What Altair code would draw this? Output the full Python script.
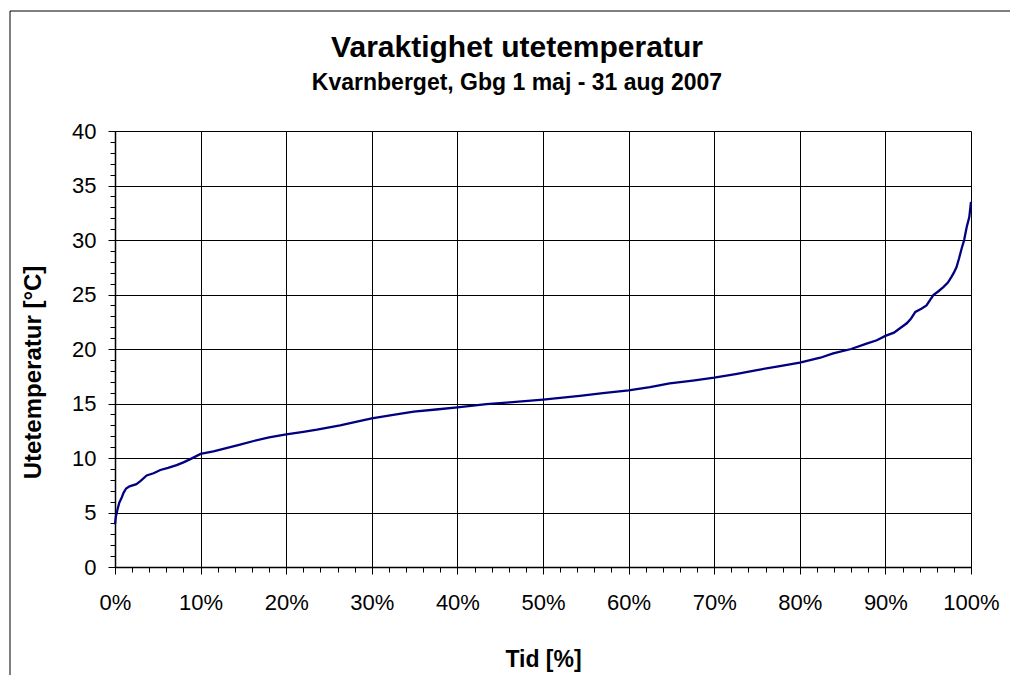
import altair as alt
import pandas as pd

# Duration curve: share of time [%] vs outdoor temperature [°C]
tid = [0, 0.1, 0.3, 0.5, 0.8, 1.0, 1.3, 1.7, 2.5, 3.0, 3.7, 4.5, 5.3, 6.2, 7.2,
       8.0, 8.8, 10, 11.5, 13, 14.5, 16.2, 18, 20, 22, 23.6, 26.3, 28, 30, 32.5,
       34.9, 37.5, 40, 43.4, 46.1, 50, 54.3, 57, 60, 62.5, 64.8, 67.5, 70, 72.5, 75,
       77.5, 80, 82.4, 83.9, 86, 87.8, 89, 90, 91, 91.7, 92.5, 93, 93.5, 94.2, 94.8,
       95.6, 96.2, 96.8, 97.3, 97.7, 98.0, 98.3, 98.6, 98.9, 99.2, 99.5, 99.8, 100]
temp = [3.9, 4.6, 5.3, 5.9, 6.4, 6.8, 7.2, 7.4, 7.6, 7.9, 8.4, 8.6, 8.9, 9.1, 9.35,
        9.6, 9.9, 10.37, 10.6, 10.9, 11.2, 11.56, 11.9, 12.17, 12.4, 12.6, 13.0, 13.3, 13.64, 13.95,
        14.25, 14.45, 14.65, 14.95, 15.1, 15.35, 15.7, 15.95, 16.2, 16.5, 16.85, 17.1, 17.37, 17.7, 18.07,
        18.4, 18.74, 19.2, 19.6, 20.0, 20.5, 20.8, 21.2, 21.5, 21.9, 22.36, 22.8, 23.4, 23.7, 24.0,
        24.95, 25.3, 25.7, 26.1, 26.6, 27.0, 27.5, 28.3, 29.2, 30.0, 31.2, 32.1, 33.5]

x_major = list(range(0, 101, 10))
x_minor = list(range(0, 101, 2))
y_major = list(range(0, 41, 5))
y_minor = list(range(0, 41, 1))

title_text = "Varaktighet utetemperatur"
subtitle_text = "Kvarnberget, Gbg 1 maj - 31 aug 2007"

df = pd.DataFrame({"tid": tid, "temp": temp})

FONT = "Liberation Sans"
xscale = alt.Scale(domain=[0, 100], nice=False, zero=False)
yscale = alt.Scale(domain=[0, 40], nice=False)

line = alt.Chart(df).mark_line(color="#000080", strokeWidth=2.3).encode(
    x=alt.X("tid:Q", scale=xscale, axis=alt.Axis(
        orient="bottom", values=x_major, labelExpr="datum.value + '%'",
        labelFlush=False, labelOverlap=False,
        tickSize=7, tickColor="black", labelPadding=18, labelFontSize=22,
        labelFont=FONT, labelColor="black", domainColor="black", domainWidth=1.5,
        grid=True, gridColor="black", gridWidth=1,
        title="Tid [%]", titleFont=FONT, titleFontSize=23, titleFontWeight="bold",
        titleColor="black", titleY=99, titleBaseline="alphabetic")),
    y=alt.Y("temp:Q", scale=yscale, axis=alt.Axis(
        orient="left", values=y_major, tickSize=7, tickColor="black",
        labelPadding=12, labelFontSize=22, labelFont=FONT, labelColor="black",
        labelFlush=False, labelOverlap=False,
        domainColor="black", domainWidth=1.5,
        grid=True, gridColor="black", gridWidth=1,
        title="Utetemperatur [°C]", titleFont=FONT, titleFontSize=24,
        titleFontWeight="bold", titleColor="black",
        titleX=-75, titleY=241, titleAngle=-90, titleAlign="center",
        titleBaseline="alphabetic")),
)

minor = alt.Chart(df).mark_point(opacity=0).encode(
    x=alt.X("tid:Q", scale=xscale, axis=alt.Axis(
        orient="bottom", values=x_minor, labels=False, tickSize=5,
        tickColor="black", grid=False, domain=False, title=None)),
    y=alt.Y("temp:Q", scale=yscale, axis=alt.Axis(
        orient="left", values=y_minor, labels=False, tickSize=5,
        tickColor="black", grid=False, domain=False, title=None)),
)

one = pd.DataFrame({"a": [0]})
frame_left = alt.Chart(one).mark_rule(color="black", strokeWidth=1).encode(
    x=alt.value(-105), y=alt.value(-120), y2=alt.value(700))
frame_top = alt.Chart(one).mark_rule(color="black", strokeWidth=1).encode(
    x=alt.value(-105), x2=alt.value(1000), y=alt.value(-120))

title_mark = alt.Chart(one).mark_text(
    font=FONT, fontSize=30, fontWeight="bold", color="black",
    align="center", baseline="alphabetic").encode(
    x=alt.value(402), y=alt.value(-74), text=alt.value(title_text))
subtitle_mark = alt.Chart(one).mark_text(
    font=FONT, fontSize=23, fontWeight="bold", color="black",
    align="center", baseline="alphabetic").encode(
    x=alt.value(402), y=alt.value(-41), text=alt.value(subtitle_text))

chart = alt.layer(minor, line, frame_left, frame_top, title_mark, subtitle_mark).resolve_axis(
    x="independent", y="independent"
).properties(
    width=856, height=436,
    autosize=alt.AutoSizeParams(type="none"),
    padding={"left": 107, "top": 123, "right": 39, "bottom": 108},
).configure_view(
    stroke="#808080", strokeWidth=2
).configure(background="white")

chart.save("out.html", embed_options={"renderer": "svg", "actions": False})
